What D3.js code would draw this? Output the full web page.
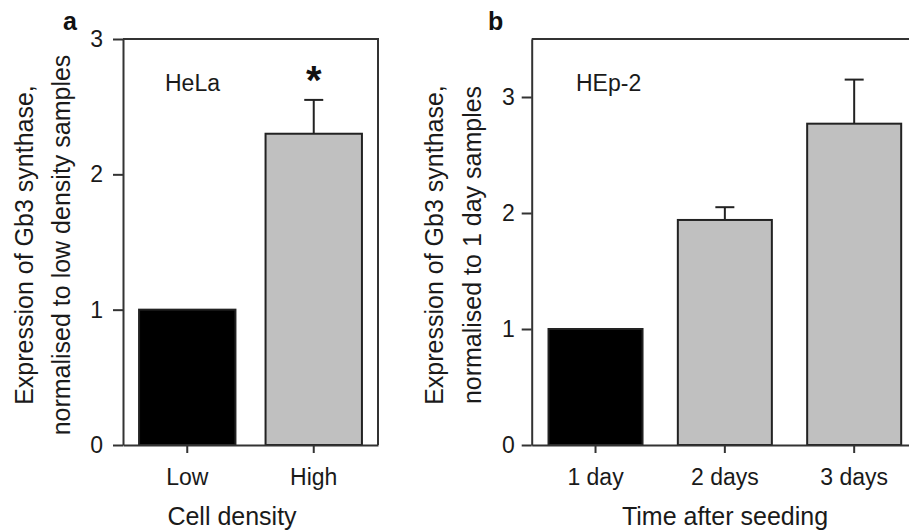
<!DOCTYPE html>
<html>
<head>
<meta charset="utf-8">
<script src="https://cdn.jsdelivr.net/npm/d3@7"></script>
<style>
  html, body { margin: 0; padding: 0; background: #fff; }
  svg { display: block; font-family: "Liberation Sans", Arial, sans-serif; }
</style>
</head>
<body>
<svg id="chart" width="909" height="531"></svg>
<script>
// ---- data ----
const panelACategories = ["Low", "High"];
const panelAValues = [1.0, 2.3];
const panelAErrUpper = [null, 2.55];
const panelATicks = [0, 1, 2, 3];

const panelBCategories = ["1 day", "2 days", "3 days"];
const panelBValues = [1.0, 1.94, 2.77];
const panelBErrUpper = [null, 2.05, 3.15];
const panelBTicks = [0, 1, 2, 3];

const barFills = ["#000000", "#c0c0c0", "#c0c0c0"];

const svg = d3.select("#chart");
const axisColor = "#333";
const textColor = "#1a1a1a";

function drawPanel(opts) {
  const { cats, vals, errs, ticks, xRange, yTop, yBottom, yMax,
          padInner, padOuter, tickPad, letter, letterX, label, labelX,
          yTitle, yTitleX1, yTitleX2, xTitle, xTitleX, star } = opts;
  const g = svg.append("g");
  const x = d3.scaleBand().domain(cats).range(xRange)
    .paddingInner(padInner).paddingOuter(padOuter);
  const y = d3.scaleLinear().domain([0, yMax]).range([yBottom, yTop]);

  // bars
  g.selectAll("rect.bar").data(cats).enter().append("rect")
    .attr("class", "bar")
    .attr("x", d => x(d))
    .attr("width", x.bandwidth())
    .attr("y", (d, i) => y(vals[i]))
    .attr("height", (d, i) => y(0) - y(vals[i]))
    .attr("fill", (d, i) => barFills[i])
    .attr("stroke", "#222")
    .attr("stroke-width", 2);

  // error bars (upper only)
  const errData = cats.map((c, i) => ({ c, v: vals[i], e: errs[i] })).filter(d => d.e != null);
  g.selectAll("line.err").data(errData).enter().append("line")
    .attr("x1", d => x(d.c) + x.bandwidth() / 2)
    .attr("x2", d => x(d.c) + x.bandwidth() / 2)
    .attr("y1", d => y(d.v))
    .attr("y2", d => y(d.e))
    .attr("stroke", "#222").attr("stroke-width", 2);
  g.selectAll("line.cap").data(errData).enter().append("line")
    .attr("x1", d => x(d.c) + x.bandwidth() / 2 - 9.5)
    .attr("x2", d => x(d.c) + x.bandwidth() / 2 + 9.5)
    .attr("y1", d => y(d.e))
    .attr("y2", d => y(d.e))
    .attr("stroke", "#222").attr("stroke-width", 2);

  // frame top & right
  g.append("path")
    .attr("d", `M${xRange[0]},${yTop}H${xRange[1]}V${yBottom}`)
    .attr("fill", "none").attr("stroke", axisColor).attr("stroke-width", 2);

  // y axis
  const ya = g.append("g").attr("transform", `translate(${xRange[0]},0)`)
    .call(d3.axisLeft(y).tickValues(ticks).tickFormat(d3.format("d"))
      .tickSize(10).tickSizeOuter(0).tickPadding(tickPad));
  ya.select(".domain").attr("stroke", axisColor).attr("stroke-width", 2);
  ya.selectAll(".tick line").attr("stroke", axisColor).attr("stroke-width", 2);
  ya.selectAll(".tick text").attr("font-size", 23).attr("fill", textColor)
    .attr("font-family", "Liberation Sans, Arial, sans-serif");

  // x axis
  const xa = g.append("g").attr("transform", `translate(0,${yBottom})`)
    .call(d3.axisBottom(x).tickSize(8).tickSizeOuter(0));
  xa.select(".domain").attr("stroke", axisColor).attr("stroke-width", 2);
  xa.selectAll(".tick line").attr("stroke", axisColor).attr("stroke-width", 2);
  xa.selectAll(".tick text").attr("font-size", 23).attr("fill", textColor)
    .attr("font-family", "Liberation Sans, Arial, sans-serif")
    .attr("y", 40).attr("dy", 0);

  // panel letter
  g.append("text").attr("x", letterX).attr("y", 30).text(letter)
    .attr("font-size", 25).attr("font-weight", "bold").attr("fill", "#111");

  // inner label
  g.append("text").attr("x", labelX).attr("y", 91).text(label)
    .attr("font-size", 23).attr("fill", textColor);

  // star
  if (star) {
    g.append("text")
      .attr("x", x(star) + x.bandwidth() / 2)
      .attr("y", 94).attr("text-anchor", "middle")
      .attr("font-size", 40).attr("font-weight", "bold").attr("fill", "#111")
      .text("*");
  }

  // y title (two lines)
  const cy = 245;
  g.append("text").attr("transform", `translate(${yTitleX1},${cy}) rotate(-90)`)
    .attr("text-anchor", "middle").attr("font-size", 25).attr("fill", textColor)
    .text(yTitle[0]);
  g.append("text").attr("transform", `translate(${yTitleX2},${cy}) rotate(-90)`)
    .attr("text-anchor", "middle").attr("font-size", 25).attr("fill", textColor)
    .text(yTitle[1]);

  // x title
  g.append("text").attr("x", xTitleX).attr("y", 525)
    .attr("text-anchor", "middle").attr("font-size", 25).attr("fill", textColor)
    .text(xTitle);
}

drawPanel({
  cats: panelACategories, vals: panelAValues, errs: panelAErrUpper, ticks: panelATicks,
  xRange: [123, 378], yTop: 39, yBottom: 445, yMax: 3,
  padInner: 0.238, padOuter: 0.127, tickPad: 10,
  letter: "a", letterX: 63, label: "HeLa", labelX: 165,
  yTitle: ["Expression of Gb3 synthase,", "normalised to low density samples"],
  yTitleX1: 33, yTitleX2: 70,
  xTitle: "Cell density", xTitleX: 232, star: "High"
});

drawPanel({
  cats: panelBCategories, vals: panelBValues, errs: panelBErrUpper, ticks: panelBTicks,
  xRange: [531.7, 918], yTop: 39, yBottom: 445, yMax: 3.5,
  padInner: 0.273, padOuter: 0.13, tickPad: 7,
  letter: "b", letterX: 488, label: "HEp-2", labelX: 576,
  yTitle: ["Expression of Gb3 synthase,", "normalised to 1 day samples"],
  yTitleX1: 443, yTitleX2: 481,
  xTitle: "Time after seeding", xTitleX: 725, star: null
});
</script>
</body>
</html>
